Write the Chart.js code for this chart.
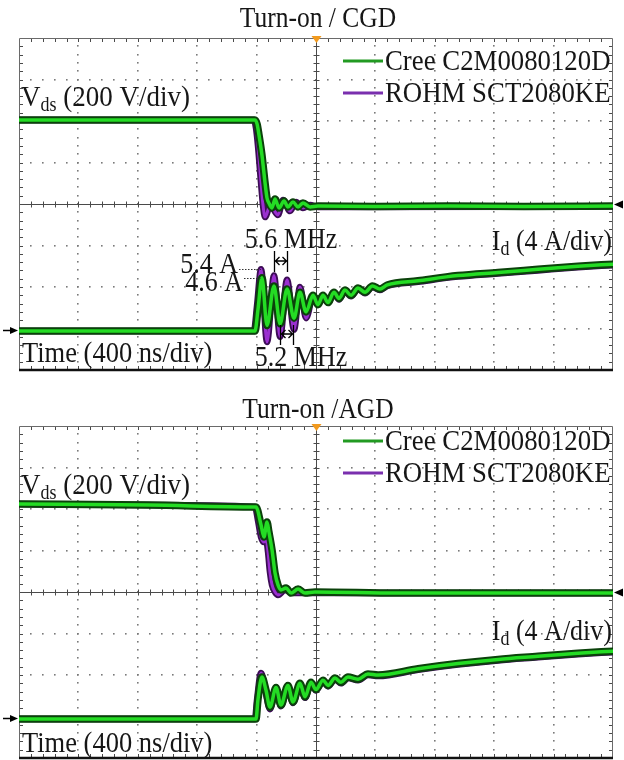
<!DOCTYPE html>
<html>
<head>
<meta charset="utf-8">
<script src="https://cdn.jsdelivr.net/npm/chart.js@4.4.1/dist/chart.umd.min.js"></script>
<style>
  html, body { margin: 0; padding: 0; background: #fff; }
  .painel { position: absolute; left: 0; width: 624px; height: 380px; }
  #topo { top: 0; }
  #baixo { top: 380px; }
</style>
</head>
<body>
<div class="painel" id="topo"><canvas id="graficoCGD" width="624" height="380"></canvas></div>
<div class="painel" id="baixo"><canvas id="graficoAGD" width="624" height="380"></canvas></div>
<script>
// Dispositivos comparados
const dispositivos = ['Cree C2M0080120D', 'ROHM SCT2080KE'];

// Escalas do osciloscópio: 400 ns/div, 200 V/div, 4 A/div
const escalaTempo = [-2000, 2000];
const escalaVds = [-800, 800];
const escalaId = [-4.3, 27.7];

// Turn-on com CGD: [tempo (ns), valor]
const cgdVdsCree = [[-2000,405],[-411,405],[-397,386],[-384,333],[-364,236],[-343,101],[-330,29],[-317,5],[-296,-19],[-276,24],[-249,-19],[-215,14],[-189,-14],[-155,10],[-121,-14],[-88,5],[-40,-14],[13,-10],[400,-12],[900,-10],[1400,-12],[2000,-10]];
const cgdVdsRohm = [[-2000,405],[-418,405],[-404,366],[-391,284],[-370,101],[-357,-5],[-343,-63],[-323,-29],[-310,5],[-283,-29],[-256,-53],[-222,19],[-175,-34],[-135,10],[-88,-19],[-40,-5],[13,-14],[2000,-12]];
const cgdIdCree = [[-2000,-0.55],[-411,-0.55],[-391,1.5],[-364,4.6],[-330,0.0],[-283,3.8],[-242,0.15],[-195,3.5],[-148,0.7],[-108,3.2],[-67,1.3],[-20,2.9],[13,2.0],[47,2.9],[81,2.2],[121,3.2],[155,2.6],[195,3.4],[236,2.9],[283,3.6],[330,3.2],[380,3.8],[430,3.5],[480,3.9],[687,4.3],[956,4.8],[1226,5.1],[1495,5.4],[1764,5.7],[2000,5.9]];
const cgdIdRohm = [[-2000,-0.55],[-418,-0.55],[-397,1.9],[-370,5.4],[-330,-1.6],[-283,4.8],[-242,-1.1],[-195,4.4],[-148,-0.4],[-108,3.7],[-67,0.7],[-20,2.8],[13,2.1],[47,2.8],[81,2.2],[121,3.1],[155,2.5],[195,3.3],[236,2.8],[283,3.5],[330,3.1],[380,3.7],[430,3.4],[480,3.8],[687,4.2],[956,4.7],[1226,5.0],[1495,5.3],[1764,5.6],[2000,5.8]];

// Picos e frequências de oscilação marcados no CGD
const picosCgd = [[-370, 5.4, '5.4 A'], [-364, 4.6, '4.6 A']];
const periodosCgd = [[-283, -195, '5.6 MHz'], [-242, -155, '5.2 MHz']];

// Turn-on com AGD
const agdVdsCree = [[-2000,424],[-1131,419],[-411,410],[-404,410],[-370,323],[-350,265],[-330,337],[-317,289],[-296,202],[-276,92],[-256,34],[-236,10],[-202,19],[-168,-5],[-121,14],[-74,-5],[-7,0],[552,-5],[2000,-5]];
const agdVdsRohm = [[-2000,424],[-1131,419],[-411,410],[-391,347],[-370,265],[-350,241],[-337,260],[-323,193],[-310,96],[-296,34],[-276,0],[-256,-14],[-209,10],[-155,-5],[2000,-5]];
const agdIdCree = [[-2000,-0.55],[-404,-0.55],[-391,1.3],[-364,3.5],[-337,2.25],[-310,0.6],[-269,2.5],[-236,0.8],[-189,2.7],[-155,1.1],[-108,2.9],[-74,1.6],[-34,3.0],[0,2.3],[47,3.2],[81,2.7],[128,3.4],[168,3.0],[215,3.5],[283,3.3],[350,3.8],[418,3.7],[687,4.3],[956,4.8],[1226,5.2],[1495,5.5],[1764,5.8],[2000,6.0]];
const agdIdRohm = [[-2000,-0.55],[-411,-0.55],[-397,1.3],[-370,3.9],[-337,1.9],[-310,0.4],[-269,2.4],[-236,0.7],[-189,2.6],[-155,1.0],[-108,2.8],[-74,1.5],[-34,2.9],[0,2.2],[47,3.1],[81,2.6],[128,3.3],[168,2.9],[215,3.4],[283,3.2],[350,3.7],[418,3.6],[687,4.2],[956,4.7],[1226,5.1],[1495,5.4],[1764,5.7],[2000,5.9]];

const FONTE = '"Liberation Serif", "Times New Roman", serif';
const TINTA = '#161616';
const ESTICA = 1.12; // letras um pouco mais altas que largas

// Cada forma de onda vira duas linhas: contorno escuro e núcleo claro (efeito de persistência)
function tracos(pontos, eixo, cores, ordem) {
  const dados = pontos.map(([t, v]) => ({ x: t, y: v }));
  const base = { data: dados, yAxisID: eixo, pointRadius: 0, fill: false, cubicInterpolationMode: 'monotone', borderJoinStyle: 'round', borderCapStyle: 'round' };
  return [
    Object.assign({}, base, { borderColor: cores[0], borderWidth: cores[2], order: ordem + 1 }),
    Object.assign({}, base, { borderColor: cores[1], borderWidth: cores[3], order: ordem })
  ];
}
const verde = ['#0b420b', '#24dc24', 7.5, 3.5];
const roxo = ['#3c0c55', '#9a2fd0', 6.5, 3];

function escreve(ctx, s, x, y) {
  ctx.save();
  ctx.translate(x, y);
  ctx.scale(1, ESTICA);
  ctx.fillText(s, 0, 0);
  ctx.restore();
}

function texto(ctx, s, x, y, tam, alinh) {
  ctx.font = `${tam}px ${FONTE}`;
  ctx.textAlign = alinh || 'left';
  escreve(ctx, s, x, y);
}

// Texto com subscrito, ex.: V_ds (200 V/div)
function comSubscrito(ctx, x, y, principal, sub, resto, tam, alinh) {
  const fSub = Math.round(tam * 0.68);
  ctx.textAlign = 'left';
  ctx.font = `${tam}px ${FONTE}`;
  const w1 = ctx.measureText(principal).width;
  const w3 = ctx.measureText(resto).width;
  ctx.font = `${fSub}px ${FONTE}`;
  const w2 = ctx.measureText(sub).width;
  let x0 = alinh === 'right' ? x - (w1 + w2 + w3) : x;
  ctx.font = `${tam}px ${FONTE}`;
  escreve(ctx, principal, x0, y);
  ctx.font = `${fSub}px ${FONTE}`;
  escreve(ctx, sub, x0 + w1, y + tam * 0.2);
  ctx.font = `${tam}px ${FONTE}`;
  escreve(ctx, resto, x0 + w1 + w2, y);
}

const osciloscopio = {
  id: 'osciloscopio',
  beforeDatasetsDraw(chart, args, op) {
    const { ctx, chartArea: a, scales } = chart;
    const sx = scales.x, sv = scales.yV, si = scales.yI;
    const passoX = (escalaTempo[1] - escalaTempo[0]) / 10;
    const passoY = (escalaVds[1] - escalaVds[0]) / 8;
    const xc = Math.round(sx.getPixelForValue(0)) + 0.5;
    const yc = Math.round(sv.getPixelForValue(0)) + 0.5;
    ctx.save();

    // grade pontilhada
    ctx.fillStyle = '#7a7a7a';
    for (let i = 1; i < 10; i++) {
      if (i === 5) continue;
      const x = Math.round(sx.getPixelForValue(escalaTempo[0] + i * passoX));
      for (let k = 1; k < 40; k++) {
        const y = Math.round(sv.getPixelForValue(escalaVds[0] + k * passoY / 5));
        ctx.fillRect(x - 1, y - 1, 1.6, 1.6);
      }
    }
    for (let j = 1; j < 8; j++) {
      if (j === 4) continue;
      const y = Math.round(sv.getPixelForValue(escalaVds[0] + j * passoY));
      for (let k = 1; k < 50; k++) {
        const x = Math.round(sx.getPixelForValue(escalaTempo[0] + k * passoX / 5));
        ctx.fillRect(x - 1, y - 1, 1.6, 1.6);
      }
    }

    // eixos centrais com marcas menores
    ctx.strokeStyle = '#4a4a4a';
    ctx.lineWidth = 1;
    ctx.beginPath();
    ctx.moveTo(xc, a.top); ctx.lineTo(xc, a.bottom);
    ctx.moveTo(a.left, yc); ctx.lineTo(a.right, yc);
    for (let k = 1; k < 50; k++) {
      const x = Math.round(sx.getPixelForValue(escalaTempo[0] + k * passoX / 5)) + 0.5;
      ctx.moveTo(x, yc - 3); ctx.lineTo(x, yc + 3);
      ctx.moveTo(x, a.top); ctx.lineTo(x, a.top + 4);
      ctx.moveTo(x, a.bottom); ctx.lineTo(x, a.bottom - 4);
    }
    for (let k = 1; k < 40; k++) {
      const y = Math.round(sv.getPixelForValue(escalaVds[0] + k * passoY / 5)) + 0.5;
      ctx.moveTo(xc - 3, y); ctx.lineTo(xc + 3, y);
      ctx.moveTo(a.left, y); ctx.lineTo(a.left + 4, y);
      ctx.moveTo(a.right, y); ctx.lineTo(a.right - 4, y);
    }
    ctx.stroke();

    // moldura
    ctx.strokeStyle = '#6a6a6a';
    ctx.beginPath();
    ctx.moveTo(a.left + 0.5, a.bottom); ctx.lineTo(a.left + 0.5, a.top + 0.5);
    ctx.lineTo(a.right - 0.5, a.top + 0.5); ctx.lineTo(a.right - 0.5, a.bottom);
    ctx.stroke();
    ctx.strokeStyle = '#111';
    ctx.lineWidth = 2.5;
    ctx.beginPath();
    ctx.moveTo(a.left, a.bottom); ctx.lineTo(a.right, a.bottom);
    ctx.stroke();

    // gatilho (topo) e referências de terra dos canais
    ctx.fillStyle = '#f29a1e';
    ctx.beginPath();
    ctx.moveTo(xc - 5, a.top - 2); ctx.lineTo(xc + 5, a.top - 2); ctx.lineTo(xc, a.top + 5);
    ctx.closePath(); ctx.fill();

    ctx.fillStyle = '#000';
    ctx.strokeStyle = '#000';
    ctx.lineWidth = 1.5;
    const yRefI = Math.round(si.getPixelForValue(op.refId)) + 0.5;
    ctx.beginPath();
    ctx.moveTo(a.left - 16, yRefI); ctx.lineTo(a.left - 6, yRefI);
    ctx.stroke();
    ctx.beginPath();
    ctx.moveTo(a.left - 1, yRefI); ctx.lineTo(a.left - 9, yRefI - 3.5); ctx.lineTo(a.left - 9, yRefI + 3.5);
    ctx.closePath(); ctx.fill();
    ctx.beginPath();
    ctx.moveTo(a.right + 1, yc); ctx.lineTo(a.right + 10, yc - 4); ctx.lineTo(a.right + 10, yc + 4);
    ctx.closePath(); ctx.fill();
    ctx.restore();
  },
  afterDatasetsDraw(chart, args, op) {
    const { ctx, chartArea: a, scales } = chart;
    const sx = scales.x, si = scales.yI;
    ctx.save();
    ctx.fillStyle = TINTA;
    ctx.textBaseline = 'alphabetic';

    texto(ctx, op.titulo, op.tituloX, op.tituloY, 25.5, 'center');

    // legenda
    const cores = ['#229a22', '#7a2fae'];
    dispositivos.forEach((nome, i) => {
      const y = op.legendaY + i * 32;
      ctx.strokeStyle = cores[i];
      ctx.lineWidth = 3;
      ctx.beginPath();
      ctx.moveTo(op.legendaX, y); ctx.lineTo(op.legendaX + 40, y);
      ctx.stroke();
      ctx.fillStyle = TINTA;
      texto(ctx, nome, op.legendaX + 42, y + 9, 26.8, 'left');
    });

    comSubscrito(ctx, a.left + 2, op.vdsY, 'V', 'ds', ' (200 V/div)', 27, 'left');
    comSubscrito(ctx, a.right - 1, op.idY, 'I', 'd', ' (4 A/div)', 26, 'right');
    texto(ctx, 'Time (400 ns/div)', a.left + 3, op.tempoY, 26.5, 'left');

    // picos anotados com linha de chamada pontilhada
    (op.picos || []).forEach(([t, v, rotulo], i) => {
      const y = Math.round(si.getPixelForValue(v)) + 0.5;
      const xFim = op.picosX[i];
      texto(ctx, rotulo, xFim, op.picosY[i], 26, 'right');
      ctx.strokeStyle = '#333';
      ctx.lineWidth = 1;
      ctx.setLineDash([1.5, 1.5]);
      ctx.beginPath();
      ctx.moveTo(xFim + 1, y); ctx.lineTo(sx.getPixelForValue(t), y);
      ctx.stroke();
      ctx.setLineDash([]);
    });

    // marcadores de período |<->|
    (op.periodos || []).forEach(([t1, t2, rotulo], i) => {
      const x1 = Math.round(sx.getPixelForValue(t1)) + 0.5;
      const x2 = Math.round(sx.getPixelForValue(t2)) + 0.5;
      const [yTopo, yBase, yMeio] = op.periodosY[i];
      ctx.strokeStyle = '#000';
      ctx.lineWidth = 1.3;
      ctx.beginPath();
      ctx.moveTo(x1, yTopo); ctx.lineTo(x1, yBase);
      ctx.moveTo(x2, yTopo); ctx.lineTo(x2, yBase);
      ctx.moveTo(x1, yMeio); ctx.lineTo(x2, yMeio);
      ctx.moveTo(x1 + 5, yMeio - 4); ctx.lineTo(x1 + 1, yMeio); ctx.lineTo(x1 + 5, yMeio + 4);
      ctx.moveTo(x2 - 5, yMeio - 4); ctx.lineTo(x2 - 1, yMeio); ctx.lineTo(x2 - 5, yMeio + 4);
      ctx.stroke();
      ctx.fillStyle = TINTA;
      const [xt, yt] = op.periodosTexto[i];
      texto(ctx, rotulo, xt, yt, 26, 'center');
    });
    ctx.restore();
  }
};

function montarPainel(id, series, padding, extras) {
  const datasets = [];
  series.forEach(([pontos, eixo, cores, ordem]) => datasets.push(...tracos(pontos, eixo, cores, ordem)));
  return new Chart(document.getElementById(id), {
    type: 'line',
    data: { datasets },
    options: {
      responsive: false,
      animation: false,
      layout: { padding },
      scales: {
        x: { type: 'linear', min: escalaTempo[0], max: escalaTempo[1], display: false },
        yV: { type: 'linear', min: escalaVds[0], max: escalaVds[1], display: false },
        yI: { type: 'linear', min: escalaId[0], max: escalaId[1], display: false }
      },
      plugins: {
        legend: { display: false },
        tooltip: { enabled: false },
        osciloscopio: extras
      }
    },
    plugins: [osciloscopio]
  });
}

montarPainel('graficoCGD', [
  [cgdVdsCree, 'yV', verde, 0],
  [cgdIdCree, 'yI', verde, 0],
  [cgdVdsRohm, 'yV', roxo, 2],
  [cgdIdRohm, 'yI', roxo, 2]
], { left: 19, right: 11, top: 38, bottom: 10 }, {
  titulo: 'Turn-on / CGD', tituloX: 318, tituloY: 27,
  legendaX: 343, legendaY: 61,
  vdsY: 106, idY: 250, tempoY: 362, refId: -0.45,
  picos: picosCgd, picosX: [238, 243], picosY: [273, 291],
  periodos: periodosCgd, periodosY: [[251, 272, 261], [325, 345, 334]],
  periodosTexto: [[291, 248], [301, 366]]
});

montarPainel('graficoAGD', [
  [agdVdsCree, 'yV', verde, 0],
  [agdIdCree, 'yI', verde, 0],
  [agdVdsRohm, 'yV', roxo, 2],
  [agdIdRohm, 'yI', roxo, 2]
], { left: 19, right: 11, top: 46, bottom: 2 }, {
  titulo: 'Turn-on /AGD', tituloX: 318, tituloY: 38,
  legendaX: 343, legendaY: 61,
  vdsY: 114, idY: 260, tempoY: 372, refId: -0.45
});
</script>
</body>
</html>
